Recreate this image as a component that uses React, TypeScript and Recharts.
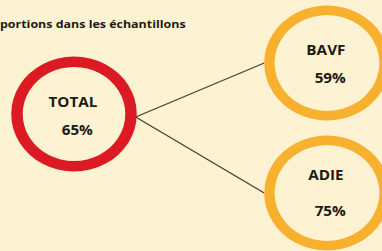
import { PieChart, Pie, Cell, Customized } from 'recharts';

// valeurs
const categories = ['TOTAL', 'BAVF', 'ADIE'];
const values = [65, 59, 75];
const title = 'portions dans les échantillons';

const W = 350;
const H = 251;
const STRETCH = 382 / W; // l'image d'origine est étirée horizontalement

const BG = '#fdf2d1';
const RED = '#dc1a24';
const ORANGE = '#f8b12f';
const INK = '#1d1b16';
const FONT = '"Open Sans", "DejaVu Sans", sans-serif';

// mise en page des cercles (coordonnées du graphique, avant étirement)
const R = 57.5;
const layout = [
  { cx: 67.8, cy: 114, color: RED, width: 10.5, dy: [-12, 16] },
  { cx: 299.6, cy: 63, color: ORANGE, width: 9.5, dy: [-13, 15] },
  { cx: 299.6, cy: 193, color: ORANGE, width: 9.5, dy: [-18, 18] },
];

const Connectors = () => {
  const root = layout[0];
  const x1 = root.cx + R - 1;
  const y1 = root.cy + 3;
  return (
    <g>
      {layout.slice(1).map((n, i) => (
        <line
          key={i}
          x1={x1}
          y1={y1}
          x2={n.cx - R}
          y2={n.cy}
          stroke="#464230"
          strokeWidth={1.2}
        />
      ))}
      <text x={0} y={28} fontFamily={FONT} fontWeight={700} fontSize={11.4} fill={INK}>
        {title}
      </text>
    </g>
  );
};

export default function App() {
  return (
    <div style={{ position: 'fixed', left: 0, top: 0, width: 382, height: 251, background: BG, overflow: 'hidden' }}>
      <div style={{ width: W, height: H, transform: `scaleX(${STRETCH})`, transformOrigin: '0 0' }}>
        <PieChart width={W} height={H} margin={{ top: 0, right: 0, bottom: 0, left: 0 }}>
          <Customized component={Connectors} />
          {categories.map((name, i) => {
            const n = layout[i];
            return (
              <Pie
                key={name}
                data={[{ name, value: values[i] }]}
                dataKey="value"
                cx={n.cx}
                cy={n.cy}
                innerRadius={R - n.width}
                outerRadius={R}
                startAngle={90}
                endAngle={-270}
                stroke="none"
                isAnimationActive={false}
                labelLine={false}
                label={(p: any) => (
                  <g>
                    <text x={n.cx - 1} y={n.cy + n.dy[0] + 5} textAnchor="middle" fontFamily={FONT} fontWeight={700} fontSize={14} fill={INK}>
                      {p.payload.name}
                    </text>
                    <text x={n.cx + 3} y={n.cy + n.dy[1] + 5} textAnchor="middle" fontFamily={FONT} fontWeight={700} fontSize={14} fill={INK}>
                      {p.payload.value}%
                    </text>
                  </g>
                )}
              >
                <Cell fill={n.color} />
              </Pie>
            );
          })}
        </PieChart>
      </div>
    </div>
  );
}
